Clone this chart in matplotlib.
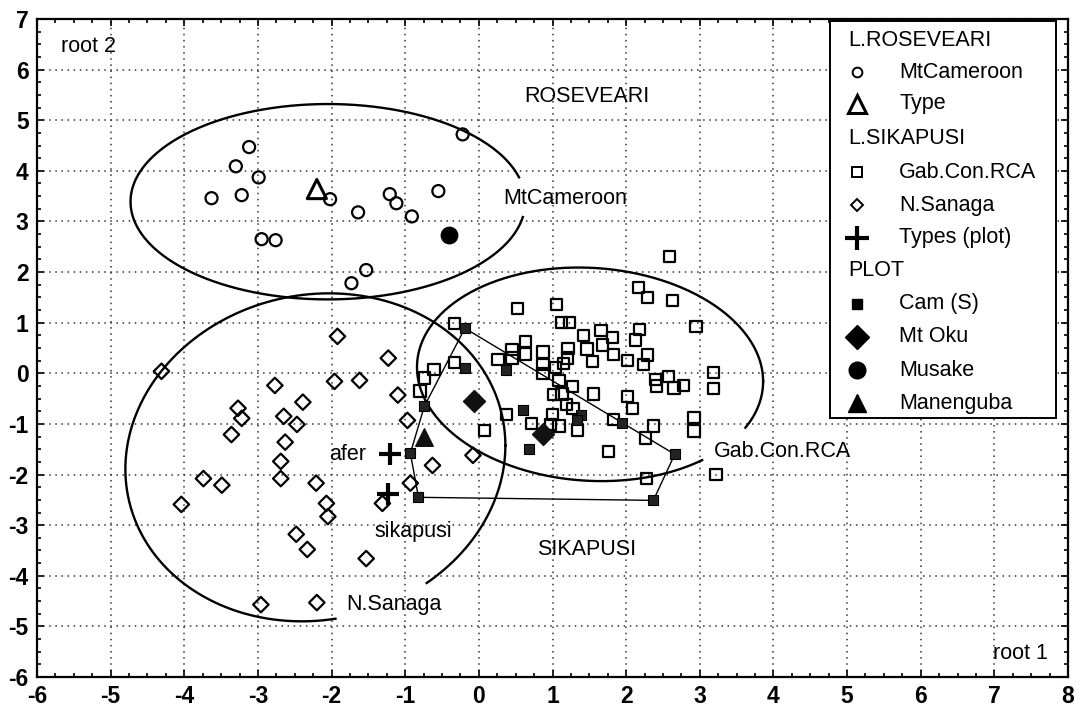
import matplotlib
matplotlib.use("Agg")
import matplotlib.pyplot as plt
import numpy as np
from matplotlib.ticker import MultipleLocator

plt.rcParams['font.family'] = ['Liberation Sans', 'DejaVu Sans']
plt.rcParams['axes.unicode_minus'] = False

# L. roseveari, Mt Cameroon
ros_x = [-3.12, -3.30, -2.99, -3.63, -3.22, -2.02, -1.64, -1.21, -1.12, -0.91,
         -0.55, -0.22, -2.95, -2.76, -1.53, -1.73]
ros_y = [4.47, 4.09, 3.87, 3.46, 3.52, 3.44, 3.18, 3.54, 3.36, 3.10,
         3.60, 4.72, 2.65, 2.63, 2.04, 1.78]
ros_type = (-2.20, 3.64)

# L. sikapusi, Gab.Con.RCA
gab_x = [2.59, 2.17, 2.29, 2.63, 0.52, 1.05, 1.12, 1.23, 2.95, -0.33,
         1.42, 1.66, 1.81, 2.18, 2.13, 0.63, 0.45, 0.63, 0.87, 1.21,
         1.47, 1.68, 1.83, 1.20, 0.26, 0.45, 1.54, 2.02, 2.29, 2.24,
         -0.33, -0.61, -0.74, -0.80, 0.87, 1.04, 1.15, 0.87, 1.09, 1.27,
         1.01, 1.13, 1.56, 2.02, 1.19, 1.28, 2.09, 0.38, 1.00, 1.83,
         0.71, 0.97, 1.09, 0.08, 1.34, 2.37, 2.92, 2.92, 2.26, 1.76,
         2.28, 3.22, 3.19, 3.19, 2.40, 2.58, 2.41, 2.65, 2.78]
gab_y = [2.31, 1.70, 1.50, 1.44, 1.28, 1.36, 1.01, 1.01, 0.93, 0.99,
         0.74, 0.85, 0.71, 0.87, 0.66, 0.63, 0.47, 0.38, 0.42, 0.49,
         0.48, 0.56, 0.37, 0.30, 0.27, 0.30, 0.24, 0.26, 0.36, 0.18,
         0.22, 0.08, -0.09, -0.35, 0.18, 0.12, 0.19, 0.00, -0.14, -0.26,
         -0.42, -0.41, -0.41, -0.46, -0.62, -0.69, -0.69, -0.81, -0.81, -0.91,
         -0.99, -1.01, -1.04, -1.13, -1.12, -1.04, -0.88, -1.14, -1.28, -1.55,
         -2.08, -2.00, 0.02, -0.30, -0.12, -0.06, -0.25, -0.29, -0.24]

# L. sikapusi, N.Sanaga
san_x = [-4.31, -1.92, -1.23, -2.77, -1.96, -1.62, -1.10, -2.39, -3.27, -3.22,
         -2.65, -2.47, -3.36, -2.63, -0.97, -2.69, -2.69, -3.74, -3.49, -2.21,
         -0.63, -0.08, -0.93, -4.04, -2.07, -2.05, -1.31, -2.48, -2.33, -1.53,
         -2.96, -2.20]
san_y = [0.04, 0.73, 0.30, -0.24, -0.16, -0.14, -0.43, -0.57, -0.69, -0.89,
         -0.85, -1.01, -1.21, -1.36, -0.93, -1.74, -2.08, -2.08, -2.21, -2.17,
         -1.82, -1.62, -2.17, -2.59, -2.57, -2.83, -2.57, -3.18, -3.48, -3.66,
         -4.57, -4.53]

# types (plot)
type_x = [-1.21, -1.24]
type_y = [-1.60, -2.39]

# plot specimens
cam_x = [-0.19, -0.19, 0.37, -0.74, 0.60, 1.39, 1.33, 1.95, 0.68, -0.93, 2.66, -0.82, 2.37]
cam_y = [0.89, 0.10, 0.06, -0.65, -0.73, -0.83, -0.92, -0.99, -1.50, -1.58, -1.60, -2.45, -2.51]
oku_x = [-0.07, 0.87]
oku_y = [-0.55, -1.19]
musake = (-0.41, 2.73)
manenguba = (-0.74, -1.25)

# ellipses: centre, half width, half height, covariance term
ellipses = {
    'ros': ((-2.05, 3.39), 2.68, 1.93, 0.0),
    'gab': ((1.51, -0.02), 2.35, 2.11, -0.33),
    'san': ((-2.22, -1.66), 2.58, 3.24, 0.6),
}
# label gaps in ellipse outlines (x0, x1, y0, y1)
gaps = {
    'ros': (0.45, 9, 3.10, 3.85),
    'gab': (3.04, 9, -1.70, -1.09),
    'san': (-1.92, 9, -9, -4.17),
}


def ellipse_pts(c, a, b, m12, n=400):
    t = np.linspace(0, 2 * np.pi, n)
    l21 = m12 / a
    l22 = np.sqrt(b ** 2 - l21 ** 2)
    x = c[0] + a * np.cos(t)
    y = c[1] + l21 * np.cos(t) + l22 * np.sin(t)
    return x, y


def hull(xs, ys):
    pts = sorted(zip(xs, ys))

    def cross(o, a, b):
        return (a[0] - o[0]) * (b[1] - o[1]) - (a[1] - o[1]) * (b[0] - o[0])
    lower, upper = [], []
    for p in pts:
        while len(lower) >= 2 and cross(lower[-2], lower[-1], p) <= 0:
            lower.pop()
        lower.append(p)
    for p in reversed(pts):
        while len(upper) >= 2 and cross(upper[-2], upper[-1], p) <= 0:
            upper.pop()
        upper.append(p)
    h = lower[:-1] + upper[:-1]
    h.append(h[0])
    return [p[0] for p in h], [p[1] for p in h]


fig = plt.figure(figsize=(10.82, 7.07), dpi=100)
ax = fig.add_axes([37 / 1082, 1 - 677 / 707, 1031 / 1082, 658 / 707])
ax.set_xlim(-6, 8)
ax.set_ylim(-6, 7)
ax.set_xticks(range(-6, 9))
ax.set_yticks(range(-6, 8))
ax.xaxis.set_minor_locator(MultipleLocator(0.25))
ax.yaxis.set_minor_locator(MultipleLocator(0.25))
ax.tick_params(which='both', direction='in', top=True, right=True, width=1.2, color='black')
ax.tick_params(which='major', length=5, labelsize=16.5, pad=6)
ax.tick_params(which='minor', length=3)
for lab in ax.get_xticklabels() + ax.get_yticklabels():
    lab.set_fontweight('bold')
for sp in ax.spines.values():
    sp.set_linewidth(1.6)
ax.grid(True, which='major', color='#333333', linestyle=(0, (1, 3)), linewidth=1.1)
ax.set_axisbelow(True)

for key, (c, a, b, m12) in ellipses.items():
    ex, ey = ellipse_pts(c, a, b, m12)
    x0, x1, y0, y1 = gaps[key]
    cut = (ex > x0) & (ex < x1) & (ey > y0) & (ey < y1)
    ex[cut] = np.nan
    ax.plot(ex, ey, color='black', lw=1.7, zorder=2)

hx, hy = hull(cam_x, cam_y)
ax.plot(hx, hy, color='black', lw=1.0, zorder=2)

ax.scatter(ros_x, ros_y, marker='o', s=75, facecolors='none', edgecolors='black', linewidths=1.6, zorder=3)
ax.scatter([ros_type[0]], [ros_type[1]], marker='^', s=190, facecolors='none', edgecolors='black', linewidths=2.2, zorder=3)
ax.scatter(gab_x, gab_y, marker='s', s=66, facecolors='none', edgecolors='black', linewidths=1.6, zorder=3)
ax.scatter(san_x, san_y, marker='D', s=62, facecolors='none', edgecolors='black', linewidths=1.6, zorder=3)
ax.scatter(type_x, type_y, marker='+', s=260, color='black', linewidths=3, zorder=4)
ax.scatter(cam_x, cam_y, marker='s', s=50, color='#222222', edgecolors='black', linewidths=0.8, zorder=4)
ax.scatter(oku_x, oku_y, marker='D', s=125, color='#111111', zorder=4)
ax.scatter([musake[0]], [musake[1]], marker='o', s=140, color='black', zorder=4)
ax.scatter([manenguba[0]], [manenguba[1]], marker='^', s=160, color='#111111', zorder=4)

fs = 15.5
ax.text(-5.68, 6.46, 'root 2', fontsize=fs, va='center', ha='left')
ax.text(7.72, -5.53, 'root 1', fontsize=fs, va='center', ha='right')
ax.text(1.46, 5.47, 'ROSEVEARI', fontsize=fs, va='center', ha='center')
ax.text(0.33, 3.46, 'MtCameroon', fontsize=fs, va='center', ha='left')
ax.text(-1.53, -1.60, 'afer', fontsize=fs, va='center', ha='right')
ax.text(-1.42, -3.12, 'sikapusi', fontsize=fs, va='center', ha='left')
ax.text(-1.80, -4.57, 'N.Sanaga', fontsize=fs, va='center', ha='left')
ax.text(1.46, -3.48, 'SIKAPUSI', fontsize=fs, va='center', ha='center')
ax.text(3.19, -1.54, 'Gab.Con.RCA', fontsize=fs, va='center', ha='left')

# legend box drawn in pixel units
lax = fig.add_axes([830 / 1082, 1 - 418 / 707, 226 / 1082, 397 / 707])
lax.set_xlim(830, 1056)
lax.set_ylim(418, 21)
lax.set_xticks([])
lax.set_yticks([])
for sp in lax.spines.values():
    sp.set_linewidth(1.4)

legend_rows = [
    ('L.ROSEVEARI', None),
    ('MtCameroon', dict(marker='o', ms=7, mfc='none', mec='black', mew=1.4)),
    ('Type', dict(marker='^', ms=13, mfc='none', mec='black', mew=2.2)),
    ('L.SIKAPUSI', None),
    ('Gab.Con.RCA', dict(marker='s', ms=6.5, mfc='none', mec='black', mew=1.4)),
    ('N.Sanaga', dict(marker='D', ms=6.5, mfc='none', mec='black', mew=1.4)),
    ('Types (plot)', dict(marker='+', ms=17, mec='black', mew=3)),
    ('PLOT', None),
    ('Cam (S)', dict(marker='s', ms=7, mfc='black', mec='black')),
    ('Mt Oku', dict(marker='D', ms=12, mfc='black', mec='black')),
    ('Musake', dict(marker='o', ms=12, mfc='black', mec='black')),
    ('Manenguba', dict(marker='^', ms=13, mfc='black', mec='black')),
]
row_y = [40, 72, 104, 139, 172, 205, 238, 270, 304, 337, 370, 403]
for (label, style), yy in zip(legend_rows, row_y):
    if style is None:
        lax.text(848, yy, label, fontsize=fs, va='center', ha='left')
    else:
        lax.plot([857], [yy], ls='none', **style)
        lax.text(899, yy, label, fontsize=fs, va='center', ha='left')

fig.savefig('out.png', dpi=100)
